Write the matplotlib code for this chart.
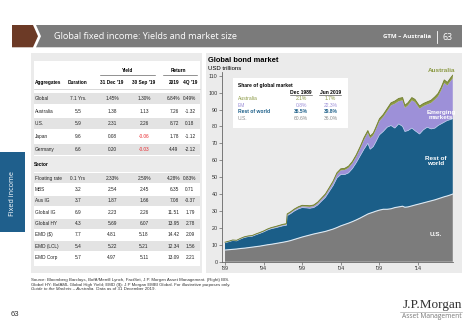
import matplotlib
matplotlib.use('Agg')
import matplotlib.pyplot as plt
from matplotlib.patches import Rectangle, Polygon
import numpy as np

plt.rcParams['font.family'] = ['Liberation Sans', 'DejaVu Sans']

# ---------------- data: global bond market (USD trillions) ----------------
years = [1989.0, 1989.5, 1990.0, 1990.5, 1991.0, 1991.5, 1992.0, 1992.5, 1993.0, 1993.5,
         1994.0, 1994.5, 1995.0, 1995.5, 1996.0, 1996.5, 1996.95, 1997.05, 1997.5, 1998.0,
         1998.5, 1999.0, 1999.5, 2000.0, 2000.5, 2001.0, 2001.5, 2002.0, 2002.5, 2003.0,
         2003.5, 2004.0, 2004.5, 2005.0, 2005.5, 2006.0, 2006.5, 2007.0, 2007.5, 2007.8,
         2008.2, 2008.5, 2009.0, 2009.5, 2010.0, 2010.5, 2011.0, 2011.5, 2012.0, 2012.3,
         2012.7, 2013.2, 2013.6, 2014.2, 2014.7, 2015.2, 2015.7, 2016.2, 2016.6, 2017.0,
         2017.4, 2017.8, 2018.2, 2018.5]
us = [6.9, 7.1, 7.3, 7.5, 7.8, 8.0, 8.3, 8.6, 8.9, 9.2,
      9.6, 10.0, 10.3, 10.7, 11.1, 11.5, 11.9, 12.0, 12.5, 13.2,
      13.9, 14.6, 15.2, 15.8, 16.4, 16.9, 17.4, 17.9, 18.6, 19.3,
      20.2, 21.2, 22.0, 22.8, 23.7, 24.7, 25.8, 27.0, 28.2, 28.7,
      29.3, 29.8, 30.5, 31.0, 31.0, 31.3, 32.0, 32.4, 32.8, 32.2,
      32.4, 33.0, 33.5, 34.2, 34.8, 35.4, 36.0, 36.6, 37.2, 37.8,
      38.4, 38.9, 39.5, 40.0]
rest_of_world = [4.3, 4.7, 5.2, 4.8, 5.6, 6.3, 6.5, 6.4, 7.0, 7.5,
                 8.0, 8.7, 9.2, 9.3, 9.5, 9.7, 9.6, 15.2, 15.9, 16.8,
                 17.3, 17.4, 16.6, 15.8, 15.6, 16.6, 18.4, 20.1, 22.9, 25.7,
                 29.3, 30.3, 29.5, 29.7, 31.3, 33.8, 36.7, 39.5, 41.8, 37.8,
                 38.7, 40.7, 44.5, 46.0, 48.5, 49.2, 47.0, 49.1, 47.2, 44.8,
                 45.1, 46.0, 44.0, 41.3, 43.2, 44.1, 42.5, 42.4, 43.3, 43.7,
                 44.1, 44.6, 44.5, 44.6]
emerging = [0.1, 0.1, 0.1, 0.1, 0.12, 0.12, 0.14, 0.15, 0.18, 0.2,
            0.22, 0.25, 0.3, 0.35, 0.4, 0.45, 0.5, 0.55, 0.6, 0.65,
            0.7, 0.75, 0.8, 0.85, 0.9, 1.0, 1.1, 1.3, 1.5, 1.8,
            2.2, 2.5, 2.7, 3.0, 3.2, 3.6, 4.3, 5.5, 6.2, 6.5,
            6.7, 7.2, 8.1, 8.6, 9.5, 11.9, 14.4, 13.4, 15.4, 13.9,
            14.9, 16.4, 16.9, 15.0, 14.0, 13.5, 15.4, 16.9, 17.3, 19.8,
            23.2, 20.7, 22.7, 23.8]
australia = [0.24, 0.25, 0.26, 0.27, 0.28, 0.3, 0.3, 0.32, 0.33, 0.35,
             0.36, 0.38, 0.4, 0.42, 0.44, 0.46, 0.48, 0.5, 0.52, 0.55,
             0.58, 0.6, 0.62, 0.64, 0.66, 0.7, 0.72, 0.75, 0.8, 0.85,
             0.9, 0.95, 1.0, 1.0, 1.05, 1.1, 1.2, 1.3, 1.35, 1.3,
             1.3, 1.35, 1.4, 1.45, 1.5, 1.55, 1.6, 1.65, 1.65, 1.6,
             1.6, 1.65, 1.6, 1.55, 1.55, 1.55, 1.6, 1.65, 1.7, 1.75,
             1.8, 1.8, 1.85, 1.9]
x_ticks = [1989, 1994, 1999, 2004, 2009, 2014]
x_tick_labels = ["'89", "'94", "'99", "'04", "'09", "'14"]
y_ticks = [0, 10, 20, 30, 40, 50, 60, 70, 80, 90, 100, 110]

share_labels = ['Australia', 'EM', 'Rest of world', 'U.S.']
share_1989 = ['2.1%', '0.8%', '36.5%', '60.6%']
share_2019 = ['1.7%', '22.3%', '39.8%', '36.0%']

# ---------------- data: yields table ----------------
table_headers = ['Aggregates', 'Duration', "31 Dec '19", "30 Sep '19", '2019', "4Q '19"]
agg_rows = [
    ['Global', '7.1 Yrs.', '1.45%', '1.30%', '6.84%', '0.49%'],
    ['Australia', '5.5', '1.38', '1.13', '7.26', '-1.32'],
    ['U.S.', '5.9', '2.31', '2.26', '8.72', '0.18'],
    ['Japan', '9.6', '0.08', '-0.06', '1.78', '-1.12'],
    ['Germany', '6.6', '0.20', '-0.03', '4.49', '-2.12'],
]
sector_rows = [
    ['Floating rate', '0.1 Yrs', '2.33%', '2.59%', '4.28%', '0.83%'],
    ['MBS', '3.2', '2.54', '2.45', '6.35', '0.71'],
    ['Aus IG', '3.7', '1.87', '1.66', '7.08', '-0.37'],
    ['Global IG', '6.9', '2.23', '2.26', '11.51', '1.79'],
    ['Global HY', '4.3', '5.69', '6.07', '13.95', '2.78'],
    ['EMD ($)', '7.7', '4.81', '5.18', '14.42', '2.09'],
    ['EMD (LCL)', '5.4', '5.22', '5.21', '12.34', '1.56'],
    ['EMD Corp', '5.7', '4.97', '5.11', '13.09', '2.21'],
]

# ---------------- styles ----------------
C_US = '#7c7c7c'
C_ROW = '#1b5e88'
C_EM = '#9d90d8'
C_AUS = '#8c9a45'
C_PANEL = '#ebebeb'
C_SHADE = '#e3e3e3'
C_HEAD = '#7b7b7b'
C_BROWN = '#6c3a26'

W, H = 474, 328
fig = plt.figure(figsize=(W / 100, H / 100), dpi=100)
fig.patch.set_facecolor('white')

bg = fig.add_axes([0, 0, 1, 1], zorder=0)
bg.set_xlim(0, W)
bg.set_ylim(H, 0)
bg.axis('off')

# header bar
bg.add_patch(Polygon([(36, 25), (462, 25), (462, 47.3), (36, 47.3), (41, 36.2)],
                     closed=True, fc=C_HEAD, ec='none'))
bg.add_patch(Polygon([(12, 25), (33, 25), (38, 36.2), (33, 47.3), (12, 47.3)],
                     closed=True, fc=C_BROWN, ec='none'))
bg.text(54, 36.5, 'Global fixed income: Yields and market size', color='white',
        fontsize=6.6, family=['Open Sans', 'DejaVu Sans'], va='center', ha='left')
bg.text(431, 36.8, 'GTM \u2013 Australia', color='white', fontsize=4.4,
        family=['Open Sans', 'DejaVu Sans'], va='center', ha='right', weight='bold')
bg.plot([437, 437], [31, 42.5], color='white', lw=0.6)
bg.text(443, 37, '63', color='white', fontsize=6.4,
        family=['Open Sans', 'DejaVu Sans'], va='center', ha='left')

# side tab
bg.add_patch(Rectangle((0, 152), 25.5, 80, fc='#1f5f8c', ec='none'))
bg.text(13, 193, 'Fixed income', color='white', fontsize=5.2, rotation=90,
        family=['Open Sans', 'DejaVu Sans'], va='center', ha='center')

# panels
bg.add_patch(Rectangle((31.5, 52.7), 170.5, 220, fc=C_PANEL, ec='none'))
bg.add_patch(Rectangle((206.5, 52.7), 255.5, 220, fc=C_PANEL, ec='none'))

# ---------------- left table ----------------
FS = 3.45
col_x = [35, 78, 112, 144, 174, 190]
bg.add_patch(Rectangle((34, 61), 166, 95, fc='white', ec='none'))
bg.text(128, 70, 'Yield', fontsize=FS, weight='bold', ha='center', va='center')
bg.plot([100, 155], [74.5, 74.5], color='#555555', lw=0.45)
bg.text(178, 70, 'Return', fontsize=FS, weight='bold', ha='center', va='center')
bg.plot([163, 197], [74.5, 74.5], color='#555555', lw=0.45)
for j, h in enumerate(table_headers):
    bg.text(col_x[j], 82.5, h, fontsize=FS, weight='bold',
            ha='left' if j == 0 else 'center', va='center')
bg.plot([34, 200], [88.5, 88.5], color='#bbbbbb', lw=0.4)


def draw_rows(rows, y0, dy, shade_h):
    for i, r in enumerate(rows):
        y = y0 + i * dy
        if i % 2 == 0:
            bg.add_patch(Rectangle((34, y - shade_h / 2), 166, shade_h, fc=C_SHADE, ec='none'))
        for j, v in enumerate(r):
            color = '#222222'
            if j == 3 and v.startswith('-'):
                color = '#e8262b'
            bg.text(col_x[j], y, v, fontsize=FS, color=color,
                    ha='left' if j == 0 else 'center', va='center')


draw_rows(agg_rows, 98.5, 12.65, 11.0)

bg.text(34, 165, 'Sector', fontsize=FS, weight='bold', ha='left', va='center')
bg.add_patch(Rectangle((34, 172), 166, 94, fc='white', ec='none'))
draw_rows(sector_rows, 178.3, 11.3, 10.0)

# ---------------- chart ----------------
bg.text(208, 61, 'Global bond market', fontsize=5.4, weight='bold', ha='left', va='center')
bg.text(208, 68, 'USD trillions', fontsize=4.3, ha='left', va='center')

ax_l, ax_r, ax_t, ax_b = 222, 453, 72.3, 261.7
ax = fig.add_axes([ax_l / W, 1 - ax_b / H, (ax_r - ax_l) / W, (ax_b - ax_t) / H], zorder=2)
ax.set_facecolor('none')
ax.stackplot(years, us, rest_of_world, emerging, australia,
             colors=[C_US, C_ROW, C_EM, C_AUS], lw=0)
tops = np.cumsum(np.array([us, rest_of_world, emerging, australia]), axis=0)
ax.plot(years, tops[0], color='#dde9f3', lw=0.8)
ax.plot(years, tops[1], color='#b8cbea', lw=0.5)
ax.plot(years, tops[3], color='#6f7c2c', lw=0.6)
ax.set_xlim(1988.61, 2018.53)
ax.set_ylim(0, 112)
ax.set_yticks(y_ticks)
ax.set_xticks(x_ticks)
ax.set_xticklabels(x_tick_labels)
for s in ['top', 'right']:
    ax.spines[s].set_visible(False)
for s in ['left', 'bottom']:
    ax.spines[s].set_color('#666666')
    ax.spines[s].set_linewidth(0.6)
ax.tick_params(axis='both', labelsize=3.9, length=2, width=0.5, color='#666666',
               labelcolor='#333333', pad=1.2)

# overlay for inset + labels
ov = fig.add_axes([0, 0, 1, 1], zorder=3)
ov.set_xlim(0, W)
ov.set_ylim(H, 0)
ov.axis('off')
ov.patch.set_alpha(0)

ov.add_patch(Rectangle((233, 78), 115, 50, fc='white', ec='none'))
IFS = 3.6
ov.text(238, 85, 'Share of global market', fontsize=IFS, weight='bold', ha='left', va='center')
ov.text(301, 92, 'Dec 1989', fontsize=IFS, weight='bold', ha='center', va='center')
ov.text(330.5, 92, 'Jun 2019', fontsize=IFS, weight='bold', ha='center', va='center')
ov.plot([290, 312], [95, 95], color='#333333', lw=0.4)
ov.plot([319.5, 341.5], [95, 95], color='#333333', lw=0.4)
share_colors = [C_AUS, C_EM, C_ROW, '#8a8a8a']
for i, lab in enumerate(share_labels):
    y = 98.6 + i * 6.5
    wt = 'bold' if i == 2 else 'normal'
    ov.text(238, y, lab, fontsize=IFS, color=share_colors[i], weight=wt, ha='left', va='center')
    ov.text(301, y, share_1989[i], fontsize=IFS, color=share_colors[i], weight=wt, ha='center', va='center')
    ov.text(330.5, y, share_2019[i], fontsize=IFS, color=share_colors[i], weight=wt, ha='center', va='center')

LFS = 4.6
ov.text(442, 70.5, 'Australia', fontsize=LFS, color=C_AUS, weight='bold', ha='center', va='center')
ov.text(441, 115, 'Emerging\nmarkets', fontsize=LFS, color='white', weight='bold',
        ha='center', va='center', linespacing=1.05)
ov.text(436, 161, 'Rest of\nworld', fontsize=LFS, color='white', weight='bold',
        ha='center', va='center', linespacing=1.05)
ov.text(436, 235, 'U.S.', fontsize=LFS, color='white', weight='bold', ha='center', va='center')

# ---------------- footer ----------------
src = ("Source: Bloomberg Barclays, BofA/Merrill Lynch, FactSet, J.P. Morgan Asset Management. (Right) BIS.\n"
       "Global HY: BofAML Global High Yield; EMD ($): J.P Morgan EMBI Global. For illustrative purposes only.")
bg.text(31.5, 278.5, src, fontsize=3.2, color='#333333', ha='left', va='top', linespacing=1.15)
t_guide = bg.text(31.5, 287.2, 'Guide to the Markets \u2013 Australia.', fontsize=3.2, color='#333333',
                  ha='left', va='top', style='italic')
bg.annotate(' Data as of 31 December 2019.', xy=(1, 0), xycoords=t_guide,
            fontsize=3.2, color='#333333', ha='left', va='bottom')
bg.text(11, 315, '63', fontsize=5.5, color='#333333', ha='left', va='center')
bg.text(462, 305, 'J.P.Morgan', fontsize=9.5, color='#333333', ha='right', va='center',
        family=['Liberation Serif', 'DejaVu Serif'])
bg.plot([400, 462], [311.5, 311.5], color='#999999', lw=0.4)
bg.text(462, 316.5, 'Asset Management', fontsize=4.8, color='#777777', ha='right', va='center',
        family=['Open Sans', 'DejaVu Sans'])

fig.savefig('out.png', dpi=100)
